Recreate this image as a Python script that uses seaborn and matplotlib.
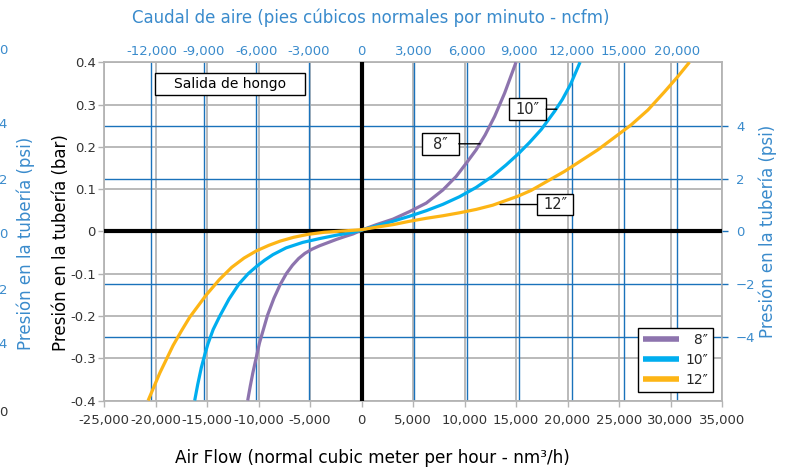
import numpy as np
import pandas as pd
import seaborn as sns
import matplotlib.pyplot as plt
from matplotlib.patches import Rectangle

# Air flow (nm3/h) vs pipe pressure (bar)
flow_8 = [-11050, -10800, -10552, -9906, -9121, -8500, -7900, -7300, -6700, -6100, -5500, -4800, -4072, -3200,
          -2441, -1600, -820, 0, 1450, 3060, 4675, 6290, 7900, 9190, 10160, 11130, 12000, 12924, 13894, 15000]
pres_8 = [-0.4, -0.366, -0.335, -0.264, -0.198, -0.158, -0.126, -0.100, -0.080, -0.064, -0.052, -0.042, -0.034,
          -0.026, -0.019, -0.012, -0.006, 0.003, 0.016, 0.029, 0.047, 0.067, 0.098, 0.130, 0.161, 0.193, 0.228,
          0.272, 0.327, 0.4]

flow_10 = [-16195, -15900, -15550, -15200, -14908, -14400, -13775, -12862, -11885, -11000, -10200, -9400, -8600,
           -7324, -5703, -4072, -2441, -820, 0, 1450, 3060, 4675, 6290, 7900, 9510, 11130, 12740, 14030, 15160,
           16300, 17450, 18744, 19500, 20300, 21216]
pres_10 = [-0.4, -0.362, -0.322, -0.290, -0.266, -0.232, -0.201, -0.160, -0.124, -0.100, -0.083, -0.068, -0.055,
           -0.039, -0.026, -0.017, -0.009, -0.002, 0.003, 0.013, 0.024, 0.036, 0.049, 0.064, 0.082, 0.104, 0.131,
           0.157, 0.182, 0.210, 0.241, 0.284, 0.312, 0.348, 0.4]

flow_12 = [-20716, -19584, -18296, -17500, -16680, -15063, -13800, -12600, -11400, -10200, -9000, -7900, -6600,
           -5200, -3600, -1800, 0, 1450, 3060, 4675, 6290, 7900, 9510, 11130, 12740, 15160, 16474, 19714, 22944,
           26182, 27800, 29412, 30700, 31836]
pres_12 = [-0.4, -0.335, -0.270, -0.236, -0.203, -0.150, -0.114, -0.085, -0.063, -0.046, -0.033, -0.023, -0.014,
           -0.007, -0.002, 0.001, 0.004, 0.010, 0.016, 0.024, 0.031, 0.037, 0.044, 0.052, 0.062, 0.083, 0.097,
           0.142, 0.193, 0.252, 0.287, 0.330, 0.366, 0.4]

sizes = ['8\u2033', '10\u2033', '12\u2033']
colors = ['#8d74ae', '#00aeef', '#fdb515']

flow_ticks = list(range(-25000, 35001, 5000))
bar_ticks = [-0.4, -0.3, -0.2, -0.1, 0, 0.1, 0.2, 0.3, 0.4]
ncfm_ticks = [-12000, -9000, -6000, -3000, 0, 3000, 6000, 9000, 12000, 15000, 18000]
ncfm_labels = ['-12,000', '-9,000', '-6,000', '-3,000', '0', '3,000', '6,000',
               '9,000', '12,000', '15,000', '20,000']
psi_ticks = [-4, -2, 0, 2, 4]
NCFM = 1.7      # nm3/h per ncfm
PSI = 16.0      # psi per bar as drawn

BLUE_TXT = '#3a8bcc'
BLUE_LINE = '#1a72bb'
GRAY = '#b4b4b4'
DARK = '#333333'


def main():
    df = pd.concat([
        pd.DataFrame({'flow': flow_8, 'pressure': pres_8, 'size': sizes[0]}),
        pd.DataFrame({'flow': flow_10, 'pressure': pres_10, 'size': sizes[1]}),
        pd.DataFrame({'flow': flow_12, 'pressure': pres_12, 'size': sizes[2]}),
    ], ignore_index=True)

    sns.set_style('white')
    plt.rcParams['font.family'] = ['DejaVu Sans']

    W, H = 794, 468
    fig = plt.figure(figsize=(W / 100, H / 100), dpi=100)
    x0, x1, y0, y1 = 104, 722, 62.3, 400.5
    ax = fig.add_axes([x0 / W, 1 - y1 / H, (x1 - x0) / W, (y1 - y0) / H])

    sns.lineplot(data=df, x='flow', y='pressure', hue='size', hue_order=sizes,
                 palette=colors, estimator=None, sort=False, lw=2.3, ax=ax, zorder=4,
                 solid_joinstyle='round', solid_capstyle='butt')

    ax.set_xlim(-25000, 35000)
    ax.set_ylim(-0.4, 0.4)
    ax.set_xticks(flow_ticks)
    ax.set_xticklabels([f'{v:,}' for v in flow_ticks])
    ax.set_yticks(bar_ticks)
    ax.set_yticklabels(['0' if v == 0 else f'{v:g}' for v in bar_ticks])
    ax.set_axisbelow(True)
    ax.grid(True, color=GRAY, lw=1.3)
    ax.tick_params(axis='both', labelsize=9.5, colors=DARK, length=4, width=1,
                   color=GRAY, direction='out')
    ax.tick_params(axis='x', pad=6)
    ax.tick_params(axis='y', pad=2)
    ax.tick_params(axis='both', left=True, bottom=True)
    for s in ax.spines.values():
        s.set_color(GRAY)
        s.set_linewidth(1.3)
    ax.set_xlabel('')
    ax.set_ylabel('')

    # blue grid of the secondary units
    for v in ncfm_ticks:
        ax.axvline(v * NCFM, color=BLUE_LINE, lw=1.0, zorder=1)
    for v in psi_ticks:
        ax.axhline(v / PSI, color=BLUE_LINE, lw=1.0, zorder=1)
    ax.axhline(0, color='black', lw=3, zorder=3)
    ax.axvline(0, color='black', lw=3, zorder=3)

    # top axis: ncfm
    ax_top = ax.twiny()
    ax_top.set_xlim(-25000 / NCFM, 35000 / NCFM)
    ax_top.set_xticks(ncfm_ticks)
    ax_top.set_xticklabels(ncfm_labels)
    ax_top.tick_params(axis='x', top=True, labelsize=9.5, colors=BLUE_TXT, length=0, pad=3)
    ax_top.grid(False)
    for s in ax_top.spines.values():
        s.set_visible(False)

    # right axis: psi
    ax_r = ax.twinx()
    ax_r.set_ylim(-0.4 * PSI, 0.4 * PSI)
    ax_r.set_yticks(psi_ticks)
    ax_r.tick_params(axis='y', right=True, labelsize=9.5, colors=BLUE_TXT, length=4,
                     width=1, color=BLUE_LINE, pad=6)
    ax_r.grid(False)
    for s in ax_r.spines.values():
        s.set_visible(False)

    # legend
    handles, _ = ax.get_legend_handles_labels()
    for h in handles:
        h.set_linewidth(4)
    leg = ax.legend(handles, ['\u2007' + sizes[0], sizes[1], sizes[2]],
                    loc='lower right', bbox_to_anchor=(0.985, 0.025), borderaxespad=0,
                    fontsize=10, handlelength=2.6, handletextpad=0.4, labelspacing=0.45,
                    frameon=True, fancybox=False, edgecolor='black', framealpha=1,
                    borderpad=0.35)
    leg.get_frame().set_linewidth(1)
    leg.set_zorder(10)

    # title box
    ax.add_patch(Rectangle((0.0825, 0.903), 0.243, 0.065, transform=ax.transAxes,
                           facecolor='white', edgecolor='black', lw=1, zorder=6))
    ax.text(0.0825 + 0.1215, 0.9355, 'Salida de hongo', transform=ax.transAxes,
            ha='center', va='center', fontsize=10, color='black', zorder=7)

    # curve callouts: label, box (x0, y0, x1, y1) in axes fraction, leader end
    callouts = [(sizes[0], (0.5146, 0.7259, 0.5740, 0.7901), (0.6084, 0.7590)),
                (sizes[1], (0.6558, 0.8294, 0.7152, 0.8936), (0.7325, 0.8613)),
                (sizes[2], (0.7002, 0.5485, 0.7594, 0.6097), (0.6408, 0.5795))]
    for lab, (bx0, by0, bx1, by1), end in callouts:
        ax.add_patch(Rectangle((bx0, by0), bx1 - bx0, by1 - by0, transform=ax.transAxes,
                               facecolor='white', edgecolor='black', lw=1, zorder=6))
        ax.text((bx0 + bx1) / 2, (by0 + by1) / 2, lab, transform=ax.transAxes,
                ha='center', va='center', fontsize=10.5, zorder=7)
        start = (bx1, end[1]) if end[0] > bx1 else (bx0, end[1])
        ax.annotate('', xy=end, xytext=start, xycoords='axes fraction',
                    textcoords='axes fraction',
                    arrowprops=dict(arrowstyle='-', color='black', lw=1,
                                    shrinkA=0, shrinkB=0), zorder=6)

    # axis titles
    fig.text(370.5 / W, 1 - 18 / H, 'Caudal de aire (pies cúbicos normales por minuto - ncfm)',
             ha='center', va='center', fontsize=12, color=BLUE_TXT)
    fig.text(372 / W, 1 - 458 / H, 'Air Flow (normal cubic meter per hour - nm³/h)',
             ha='center', va='center', fontsize=12.2, color='black')
    fig.text(60.5 / W, 1 - 243 / H, 'Presión en la tubería (bar)', rotation=90,
             ha='center', va='center', fontsize=12, color='black')
    fig.text(767.5 / W, 1 - 231.5 / H, 'Presión en la tubería (psi)', rotation=90,
             ha='center', va='center', fontsize=12, color=BLUE_TXT)

    # clipped psi scale from the neighbouring chart
    ghost = [(50, '0', BLUE_TXT), (125, '4', BLUE_TXT), (180, '2', BLUE_TXT),
             (235, '0', BLUE_TXT), (290, '2', BLUE_TXT), (345, '4', BLUE_TXT),
             (412, '0', DARK)]
    for py, s, c in ghost:
        fig.text(7 / W, 1 - py / H, s, ha='right', va='center', fontsize=9.5, color=c)
    fig.text(26 / W, 1 - 243 / H, 'Presión en la tubería (psi)', rotation=90,
             ha='center', va='center', fontsize=12, color=BLUE_TXT)

    fig.savefig('out.png', dpi=100)


if __name__ == '__main__':
    main()
